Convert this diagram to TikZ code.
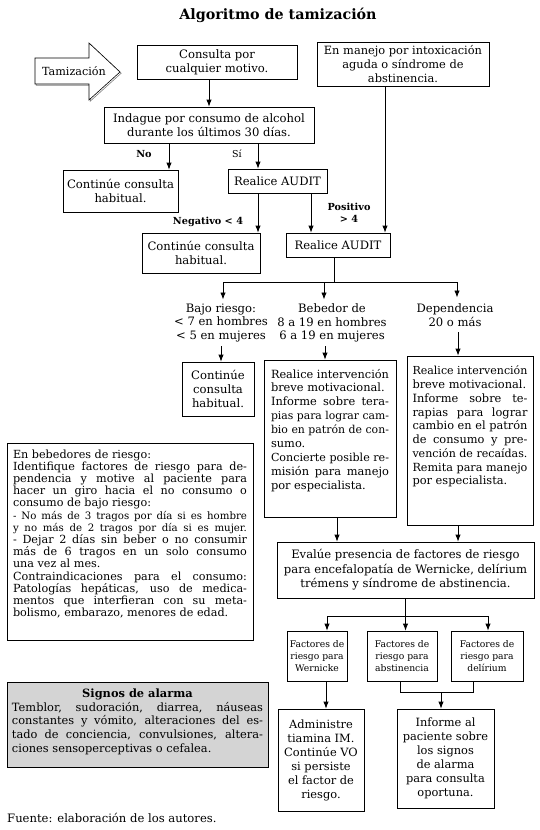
\documentclass[tikz,border=0pt]{standalone}
\usepackage{fontspec}
\usepackage{graphicx}
\setmainfont{DejaVu Serif}
\usetikzlibrary{arrows.meta}
\newcommand\jl[1]{\setbox0=\hbox{#1}\ifdim\wd0>\hsize\hbox to\hsize{\resizebox{\hsize}{!}{#1}}\else\hbox to\hsize{#1}\fi}
\newcommand\el[1]{\setbox0=\hbox{#1}\ifdim\wd0>\hsize\hbox to\hsize{\resizebox{\hsize}{!}{#1}}\else\hbox to\hsize{#1\hfil}\fi}
\newcommand\cl[1]{\hbox to\hsize{\hfil#1\hfil}}
\newcommand\tbox[4]{\vbox to #2{\hsize=#1\relax\vskip #3\relax #4\vfil}}
\tikzset{
  bx/.style={draw, line width=0.8pt, inner sep=0pt, align=center,
     font=\fontsize{11.6}{13.6}\selectfont},
  bxp/.style={draw, line width=0.8pt, inner sep=0pt,
     font=\fontsize{11.4}{13.9}\selectfont},
  lbl/.style={inner xsep=1pt, inner ysep=4pt, align=center,
     font=\fontsize{11.6}{13.6}\selectfont},
  sm/.style={draw, line width=0.8pt, inner sep=0pt, align=center,
     font=\fontsize{9.2}{12.4}\selectfont},
  yn/.style={inner sep=0pt, align=center, font=\fontsize{9.5}{12}\selectfont},
  bl/.style={inner sep=0pt, align=center, font=\fontsize{9.7}{12}\selectfont\bfseries},
  arr/.style={line width=0.8pt, -{Latex[length=7pt,width=5.4pt]}},
  ln/.style={line width=0.8pt},
}
\begin{document}
\begin{tikzpicture}[x=1pt,y=-1pt]
\useasboundingbox (0,0) rectangle (540,830);
\fill[white] (0,0) rectangle (540,830);
% title
\node[font=\fontsize{14.3}{16}\selectfont\bfseries] (title) at (278,15) {Algoritmo de tamización};
% screening arrow
\draw[gray, line width=0.6pt] (36.2,59.2) -- (90.2,59.2) -- (90.2,44.2) -- (121.2,73.2) -- (90.2,101.2) -- (90.2,85.2) -- (36.2,85.2) -- cycle;
\draw[line width=0.6pt, fill=white] (35,58) -- (89,58) -- (89,43) -- (120,72) -- (89,100) -- (89,84) -- (35,84) -- cycle;
\node[yn, font=\fontsize{11.2}{12}\selectfont] (tam) at (74,71) {Tamización};
% top boxes
\node[bx, minimum width=160pt, minimum height=34pt] (cons) at (217,62) {Consulta por\\cualquier motivo.};
\node[bx, minimum width=172pt, minimum height=44pt, font=\fontsize{11.4}{14.4}\selectfont] (man) at (403,64) {En manejo por intoxicación\\aguda o síndrome de\\abstinencia.};
\node[bx, minimum width=210pt, minimum height=36pt] (ind) at (209,125) {Indague por consumo de alcohol\\durante los últimos 30 días.};
\node[bx, minimum width=115pt, minimum height=42pt, font=\fontsize{11.6}{14.6}\selectfont] (c1) at (120.5,191) {Continúe consulta\\habitual.};
\node[bx, minimum width=99pt, minimum height=24pt] (a1) at (277.5,181) {Realice AUDIT};
\node[bx, minimum width=118pt, minimum height=40pt, font=\fontsize{11.6}{14.6}\selectfont] (c2) at (201,253) {Continúe consulta\\habitual.};
\node[bx, minimum width=104pt, minimum height=24pt] (a2) at (338,245) {Realice AUDIT};
% labels
\node[bl] (no) at (144,154) {No};
\node[yn] (si) at (237,154) {Sí};
\node[bl] (neg) at (208,222) {Negativo < 4};
\node[bl] (pos) at (349,213) {Positivo\\> 4};
% connectors top
\draw[arr] (ind.north |- cons.south) -- (ind.north);
\draw[arr] ([xshift=-40pt]ind.south) -- ([xshift=-40pt]ind.south |- c1.north);
\draw[arr] ([xshift=49pt]ind.south) -- ([xshift=49pt]ind.south |- a1.north);
\draw[arr] ([xshift=-19.5pt]a1.south) -- ([xshift=-19.5pt]a1.south |- c2.north);
\draw[arr] ([xshift=33.5pt]a1.south) -- ([xshift=33.5pt]a1.south |- a2.north);
\draw[arr] ([xshift=-18pt]man.south) -- ([xshift=-18pt]man.south |- a2.north);
% split 1
\coordinate (j1) at (334,282);
\coordinate (j1l) at (223,282);
\coordinate (j1m) at (324,282);
\coordinate (j1r) at (457,282);
\draw[ln] (a2.south -| j1) -- (j1);
\draw[ln] (j1l) -- (j1r);
\node[lbl, anchor=north] (bajo) at (221,299.5) {Bajo riesgo:\\< 7 en hombres\\< 5 en mujeres};
\node[lbl, anchor=north] (beb) at (332,299.5) {Bebedor de\\8 a 19 en hombres\\6 a 19 en mujeres};
\node[lbl, anchor=north, inner ysep=6pt] (dep) at (455,297.5) {Dependencia\\20 o más};
\draw[arr] (j1l) -- (j1l |- bajo.north);
\draw[arr] (j1m) -- (j1m |- beb.north);
\draw[arr] (j1r) -- (j1r |- dep.north);
% second level
\node[bx, minimum width=72pt, minimum height=54pt, font=\fontsize{11.6}{14.4}\selectfont] (c3) at (218,389) {Continúe\\consulta\\habitual.};
\node[bxp, minimum width=132pt, minimum height=157pt] (bb) at (330,438.5) {\tbox{118pt}{157pt}{9pt}{%
\jl{Realice intervención}
\el{breve motivacional.}
\jl{Informe sobre tera-}
\jl{pias para lograr cam-}
\jl{bio en patrón de con-}
\el{sumo.}
\jl{Concierte posible re-}
\jl{misión para manejo}
\el{por especialista.}}};
\node[bxp, minimum width=126pt, minimum height=169pt, font=\fontsize{11.4}{13.75}\selectfont] (db) at (470,440.5) {\tbox{115pt}{169pt}{10pt}{%
\jl{Realice intervención}
\el{breve motivacional.}
\jl{Informe sobre te-}
\jl{rapias para lograr}
\jl{cambio en el patrón}
\jl{de consumo y pre-}
\el{vención de recaídas.}
\jl{Remita para manejo}
\el{por especialista.}}};
\draw[arr] (bajo.south) -- (bajo.south |- c3.north);
\draw[arr] ([xshift=-5pt]bb.north |- beb.south) -- ([xshift=-5pt]bb.north);
\draw[arr] ([xshift=3pt]dep.south) -- ([xshift=3pt]dep.south |- db.north);
% evaluate
\node[bx, minimum width=257pt, minimum height=56pt, font=\fontsize{11.6}{14.5}\selectfont] (ev) at (405.5,570) {Evalúe presencia de factores de riesgo\\para encefalopatía de Wernicke, delírium\\trémens y síndrome de abstinencia.};
\draw[arr] ([xshift=7pt]bb.south) -- ([xshift=7pt]bb.south |- ev.north);
\draw[arr] ([xshift=-12pt]db.south) -- ([xshift=-12pt]db.south |- ev.north);
% split 2
\node[sm, minimum width=60pt, minimum height=50pt] (fw) at (317,656) {Factores de\\riesgo para\\Wernicke};
\node[sm, minimum width=70pt, minimum height=50pt] (fa) at (402,656) {Factores de\\riesgo para\\abstinencia};
\node[sm, minimum width=72pt, minimum height=50pt] (fd) at (487,656) {Factores de\\riesgo para\\delírium};
\coordinate (j2) at (405.5,616);
\coordinate (j2l) at (327,616);
\coordinate (j2r) at (488,616);
\draw[ln] (ev.south) -- (j2);
\draw[ln] (j2l) -- (j2r);
\draw[arr] (j2l) -- (j2l |- fw.north);
\draw[arr] (j2) -- (j2 |- fa.north);
\draw[arr] (j2r) -- (j2r |- fd.north);
% bottom
\node[bx, minimum width=86pt, minimum height=102pt, font=\fontsize{11.4}{14}\selectfont] (adm) at (321,760) {Administre\\tiamina IM.\\Continúe VO\\si persiste\\el factor de\\riesgo.};
\node[bx, minimum width=97pt, minimum height=99pt, font=\fontsize{11.4}{14}\selectfont] (inf) at (445.5,758.5) {Informe al\\paciente sobre\\los signos\\de alarma\\para consulta\\oportuna.};
\draw[arr] ([xshift=9pt]fw.south) -- ([xshift=9pt]fw.south |- adm.north);
\coordinate (j3) at (441,692);
\draw[ln] ([xshift=-2pt]fa.south) -- ++(0,11) -| ([xshift=-14pt]fd.south);
\draw[arr] (j3) -- (j3 |- inf.north);
% left notes
\node[bxp, minimum width=246pt, minimum height=197pt, font=\fontsize{11.2}{12.2}\selectfont] (note) at (130,541.5) {\tbox{234pt}{197pt}{6.5pt}{%
\el{En bebedores de riesgo:}
\jl{Identifique factores de riesgo para de-}
\jl{pendencia y motive al paciente para}
\jl{hacer un giro hacia el no consumo o}
\el{consumo de bajo riesgo:}
\jl{\fontsize{10.2}{12}\selectfont - No más de 3 tragos por día si es hombre}
\jl{\fontsize{10.2}{12}\selectfont y no más de 2 tragos por día si es mujer.}
\jl{- Dejar 2 días sin beber o no consumir}
\jl{más de 6 tragos en un solo consumo}
\el{una vez al mes.}
\jl{Contraindicaciones para el consumo:}
\jl{Patologías hepáticas, uso de medica-}
\jl{mentos que interfieran con su meta-}
\el{bolismo, embarazo, menores de edad.}}};
\node[bxp, fill=black!17, minimum width=261pt, minimum height=85pt, font=\fontsize{11.4}{13.9}\selectfont] (sig) at (137.5,724.5) {\tbox{251pt}{85pt}{6.5pt}{%
\cl{\bfseries Signos de alarma}
\jl{Temblor, sudoración, diarrea, náuseas}
\jl{constantes y vómito, alteraciones del es-}
\jl{tado de conciencia, convulsiones, altera-}
\el{ciones sensoperceptivas o cefalea.}}};
\node[anchor=west, inner sep=0pt, font=\fontsize{11.6}{12}\selectfont] (src) at (7,818) {Fuente: elaboración de los autores.};
\end{tikzpicture}
\end{document}
